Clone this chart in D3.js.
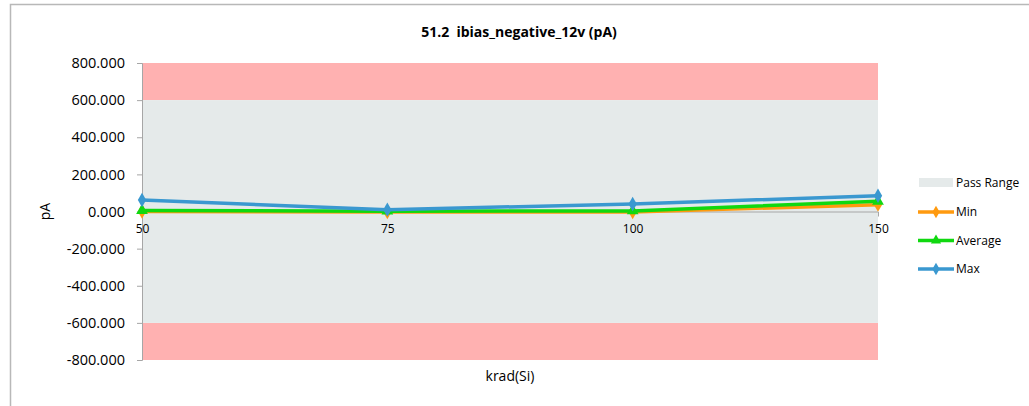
<!DOCTYPE html>
<html>
<head>
<meta charset="utf-8">
<script src="https://cdn.jsdelivr.net/npm/d3@7"></script>
<style>
  html, body { margin: 0; padding: 0; background: #fff; }
  svg { display: block; font-family: "Open Sans", "Liberation Sans", sans-serif; }
</style>
</head>
<body>
<svg id="chart" width="1029" height="406"></svg>
<script>
// Dose points (krad(Si)) and measured ibias_negative_12v values in pA
const categories = ["50", "75", "100", "150"];
const minValues = [0, -3, -3, 37];
const avgValues = [5, 2, 3, 55];
const maxValues = [62, 10, 40, 85];
const yTicks = [800, 600, 400, 200, 0, -200, -400, -600, -800];
const passLow = -600, passHigh = 600;
const yMin = -800, yMax = 800;

const seriesList = [
  { name: "Min", values: minValues, color: "#ff9a0f", marker: "diamond" },
  { name: "Average", values: avgValues, color: "#10d810", marker: "triangle" },
  { name: "Max", values: maxValues, color: "#3a98d0", marker: "diamond" }
];

const svg = d3.select("#chart");
const W = 1029, H = 406;

// outer chart frame
svg.append("rect").attr("x", 10.5).attr("y", 4.5).attr("width", W + 10).attr("height", H + 10)
  .attr("fill", "#fff").attr("stroke", "#b8b8b8").attr("stroke-width", 1.5);

const plot = { left: 142, right: 878, top: 63, bottom: 360 };

const x = d3.scalePoint().domain(categories).range([plot.left, plot.right]);
const y = d3.scaleLinear().domain([yMin, yMax]).range([plot.bottom, plot.top]);

// background bands: fail zones and the pass range
svg.append("rect").attr("x", plot.left).attr("width", plot.right - plot.left)
  .attr("y", y(yMax)).attr("height", y(passHigh) - y(yMax)).attr("fill", "#ffb1b1");
svg.append("rect").attr("x", plot.left).attr("width", plot.right - plot.left)
  .attr("y", y(passLow)).attr("height", y(yMin) - y(passLow)).attr("fill", "#ffb1b1");
svg.append("rect").attr("x", plot.left).attr("width", plot.right - plot.left)
  .attr("y", y(passHigh)).attr("height", y(passLow) - y(passHigh)).attr("fill", "#e5eaea");

// title
svg.append("text").attr("x", 519).attr("y", 37).attr("text-anchor", "middle")
  .attr("font-size", 14).attr("font-weight", "bold").attr("fill", "#000")
  .style("white-space", "pre")
  .text("51.2  ibias_negative_12v (pA)");

// y axis (plain hyphen for negatives)
const fmt = d3.formatLocale({ decimal: ".", thousands: ",", grouping: [3], currency: ["", ""], minus: "-" }).format(".3f");
const yAxis = d3.axisLeft(y).tickValues(yTicks).tickSize(5).tickPadding(12).tickFormat(fmt);
const gy = svg.append("g").attr("transform", `translate(${plot.left},0)`).call(yAxis);
gy.select(".domain").attr("stroke", "#a6a6a6");
gy.selectAll(".tick line").attr("stroke", "#a6a6a6");
gy.selectAll(".tick text").attr("font-size", 14.5).attr("fill", "#000")
  .attr("font-family", "'Open Sans', 'Liberation Sans', sans-serif");

// x axis along zero
const xAxis = d3.axisBottom(x).tickSize(5).tickPadding(8);
const gx = svg.append("g").attr("transform", `translate(0,${y(0)})`).call(xAxis);
gx.select(".domain").attr("stroke", "#a6a6a6");
gx.selectAll(".tick line").attr("stroke", "#a6a6a6").attr("y2", 0);
gx.selectAll(".tick text").attr("font-size", 12).attr("fill", "#000")
  .attr("font-family", "'Open Sans', 'Liberation Sans', sans-serif");

// axis titles
svg.append("text").attr("transform", `translate(50,${y(0)}) rotate(-90)`)
  .attr("text-anchor", "middle").attr("font-size", 14).attr("fill", "#000").text("pA");
svg.append("text").attr("x", 510).attr("y", 381).attr("text-anchor", "middle")
  .attr("font-size", 14).attr("fill", "#000").text("krad(Si)");

// series lines and markers
const line = d3.line().x((d, i) => x(categories[i])).y(d => y(d));
function markerPath(kind, size) {
  return d3.symbol().type(kind === "triangle" ? d3.symbolTriangle : d3.symbolDiamond).size(size)();
}
seriesList.forEach(s => {
  svg.append("path").datum(s.values).attr("d", line).attr("fill", "none")
    .attr("stroke", s.color).attr("stroke-width", 3.5).attr("stroke-linejoin", "round");
  svg.append("g").selectAll("path").data(s.values).join("path")
    .attr("transform", (d, i) => `translate(${x(categories[i])},${y(d)})`)
    .attr("d", markerPath(s.marker, 60)).attr("fill", s.color);
});

// legend
const lg = svg.append("g").attr("transform", "translate(918,0)");
lg.append("rect").attr("x", 1).attr("y", 178).attr("width", 34).attr("height", 9).attr("fill", "#e5eaea");
lg.append("text").attr("x", 38).attr("y", 187).attr("font-size", 12).attr("fill", "#000").text("Pass Range");
seriesList.forEach((s, i) => {
  const cy = 212 + i * 28.5;
  lg.append("line").attr("x1", 0).attr("x2", 36).attr("y1", cy).attr("y2", cy)
    .attr("stroke", s.color).attr("stroke-width", 3.5);
  lg.append("path").attr("transform", `translate(18,${cy})`).attr("d", markerPath(s.marker, 45)).attr("fill", s.color);
  lg.append("text").attr("x", 38).attr("y", cy + 4).attr("font-size", 12).attr("fill", "#000").text(s.name);
});
</script>
</body>
</html>
